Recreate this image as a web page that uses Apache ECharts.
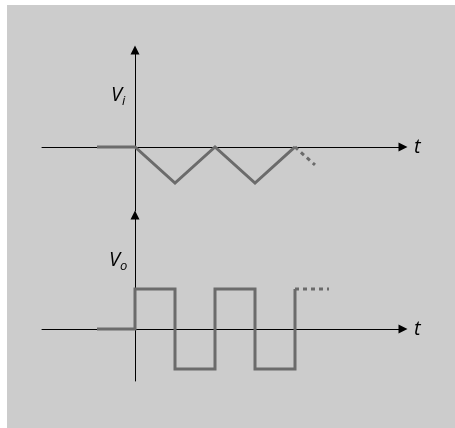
<!DOCTYPE html>
<html>
<head>
<meta charset="utf-8">
<script src="https://cdn.jsdelivr.net/npm/echarts@6/dist/echarts.min.js"></script>
<style>
  html, body { margin: 0; padding: 0; background: #fff; }
  #chart { position: absolute; left: 7px; top: 5px; width: 448px; height: 423px; background: #cccccc; }
</style>
</head>
<body>
<div id="chart"></div>
<script>
// input triangle wave Vi (t in half periods, V relative)
var viData = [[-0.95, 0], [0, 0], [1, -1], [2, 0], [3, -1], [4, 0]];
var viMore = [[4, 0], [4.5, -0.5]];
// output square wave Vo
var voData = [[-0.95, 0], [0, 0], [0, 1], [1, 1], [1, -1], [2, -1], [2, 1], [3, 1], [3, -1], [4, -1], [4, 1]];
var voMore = [[4, 1], [4.85, 1]];
var axisNames = ["t", "t"];

var myChart = echarts.init(document.getElementById("chart"));
var waveColor = "#6b6b6b";
var ox = 7, oy = 5; // chart div offset inside page

function xAxisOf(idx) {
  return {
    type: "value",
    gridIndex: idx,
    min: -2.325,
    max: 6.7,
    name: axisNames[idx],
    nameLocation: "end",
    nameGap: 11,
    nameTextStyle: { color: "#000", fontSize: 20, fontStyle: "italic", fontFamily: "Open Sans" },
    axisLine: { onZero: true, lineStyle: { color: "#000", width: 1 }, symbol: ["none", "triangle"], symbolSize: [9, 9] },
    axisTick: { show: false },
    axisLabel: { show: false },
    splitLine: { show: false }
  };
}
function yAxisOf(idx, min, max) {
  return {
    type: "value",
    gridIndex: idx,
    min: min,
    max: max,
    axisLine: { onZero: true, lineStyle: { color: "#000", width: 1 }, symbol: ["none", "triangle"], symbolSize: [9, 9] },
    axisTick: { show: false },
    axisLabel: { show: false },
    splitLine: { show: false }
  };
}
function lineOf(data, idx, dashed) {
  return {
    type: "line",
    xAxisIndex: idx,
    yAxisIndex: idx,
    data: data,
    symbol: "none",
    silent: true,
    animation: false,
    lineStyle: { color: waveColor, width: 3, type: dashed ? [4, 4] : "solid", join: "miter", cap: "butt" }
  };
}

var option = {
  grid: [
    { left: 42 - ox, top: 50 - oy, width: 361, height: 161 },
    { left: 42 - ox, top: 215 - oy, width: 361, height: 166 }
  ],
  xAxis: [xAxisOf(0), xAxisOf(1)],
  yAxis: [yAxisOf(0, -1.778, 2.694), yAxisOf(1, -1.3, 2.85)],
  graphic: [
    {
      type: "text", left: 111 - ox, top: 85 - oy,
      style: {
        text: "{v|V}{s|i}",
        rich: {
          v: { fontSize: 20, fontStyle: "italic", fontFamily: "Open Sans", fill: "#000" },
          s: { fontSize: 13, fontStyle: "italic", fontFamily: "Open Sans", fill: "#000", padding: [12, 0, 0, 0] }
        }
      }
    },
    {
      type: "text", left: 109 - ox, top: 250 - oy,
      style: {
        text: "{v|V}{s|o}",
        rich: {
          v: { fontSize: 20, fontStyle: "italic", fontFamily: "Open Sans", fill: "#000" },
          s: { fontSize: 13, fontStyle: "italic", fontFamily: "Open Sans", fill: "#000", padding: [12, 0, 0, 0] }
        }
      }
    }
  ],
  series: [
    lineOf(viData, 0, false),
    lineOf(viMore, 0, true),
    lineOf(voData, 1, false),
    lineOf(voMore, 1, true)
  ]
};
myChart.setOption(option);
</script>
</body>
</html>
